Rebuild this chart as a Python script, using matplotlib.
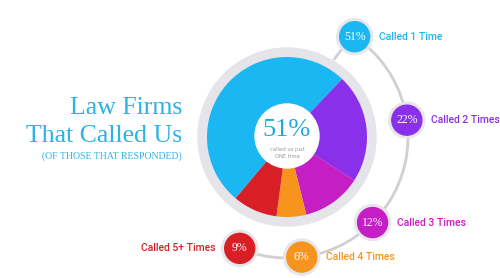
import numpy as np
import matplotlib.pyplot as plt
from matplotlib.patches import Circle, Arc

# chart data
categories = ["Called 1 Time", "Called 2 Times", "Called 3 Times", "Called 4 Times", "Called 5+ Times"]
shares = [51, 22, 12, 6, 9]
colors = ["#1bb7f2", "#8a30ea", "#c41ec4", "#f7941e", "#d91f26"]

# layout (pixel space, y up)
W, H = 500, 278
cx, cy = 287, 141
pie_r = 80
ring_r = 89
arc_r = 121
bubble_angles = [56, 8, -45, -83, -113]
label_side = ["right", "right", "right", "right", "left"]
gray = "#e4e4e9"
line_gray = "#cfcfd4"

fig = plt.figure(figsize=(5, 2.78), dpi=100)
ax = fig.add_axes([0, 0, 1, 1])

# big arc linking the bubbles
ax.add_patch(Arc((cx, cy), 2 * arc_r, 2 * arc_r, theta1=bubble_angles[-1], theta2=bubble_angles[0],
                 color=line_gray, lw=2, zorder=1))

# short connector from ring to first bubble
a0 = np.radians(bubble_angles[0])
bx0, by0 = cx + arc_r * np.cos(a0), cy + arc_r * np.sin(a0)
ax.plot([bx0 - 14, bx0 - 20], [by0 - 14, by0 - 22], color=line_gray, lw=2, zorder=1)

# pie with grey ring
ax.add_patch(Circle((cx, cy), ring_r, color=gray, zorder=2))
ax.pie(shares, colors=colors, startangle=230, counterclock=False, center=(cx, cy), radius=pie_r,
       wedgeprops=dict(linewidth=0, zorder=3), frame=True)
ax.set_xlim(0, W)
ax.set_ylim(0, H)
ax.set_aspect("equal")
ax.axis("off")
ax.add_patch(Circle((cx, cy + 1), 32, color="white", zorder=5))
ax.text(cx, cy + 7, "51%", ha="center", va="center", fontsize=19, color="#22a9dc",
        family="Liberation Serif", zorder=6)
ax.text(cx, cy - 16, "called us just\nONE time", ha="center", va="center", fontsize=3.8,
        color="#9a9aa0", linespacing=1.3, zorder=6)

# bubbles and labels
for name, val, col, ang, side in zip(categories, shares, colors, bubble_angles, label_side):
    a = np.radians(ang)
    bx, by = cx + arc_r * np.cos(a), cy + arc_r * np.sin(a)
    ax.add_patch(Circle((bx, by), 18, color="#e6e6eb", zorder=4))
    ax.add_patch(Circle((bx, by), 15, color=col, zorder=5))
    ax.text(bx, by, f"{val}%", ha="center", va="center", fontsize=8.5, color="white",
            family="Liberation Serif", zorder=6)
    if side == "right":
        ax.text(bx + 24, by, name, ha="left", va="center", fontsize=7.5, color=col,
                family="Roboto", fontweight="medium")
    else:
        ax.text(bx - 24, by, name, ha="right", va="center", fontsize=7.5, color=col,
                family="Roboto", fontweight="medium")

# title
title_col = "#2db2e6"
ax.text(182, H - 108, "Law Firms", ha="right", va="center", fontsize=18.5, color=title_col,
        family="Liberation Serif")
ax.text(182, H - 136, "That Called Us", ha="right", va="center", fontsize=18.5, color=title_col,
        family="Liberation Serif")
ax.text(182, H - 156, "(OF THOSE THAT RESPONDED)", ha="right", va="center", fontsize=7,
        color=title_col, family="Liberation Serif")

fig.savefig("out.png", dpi=100)
